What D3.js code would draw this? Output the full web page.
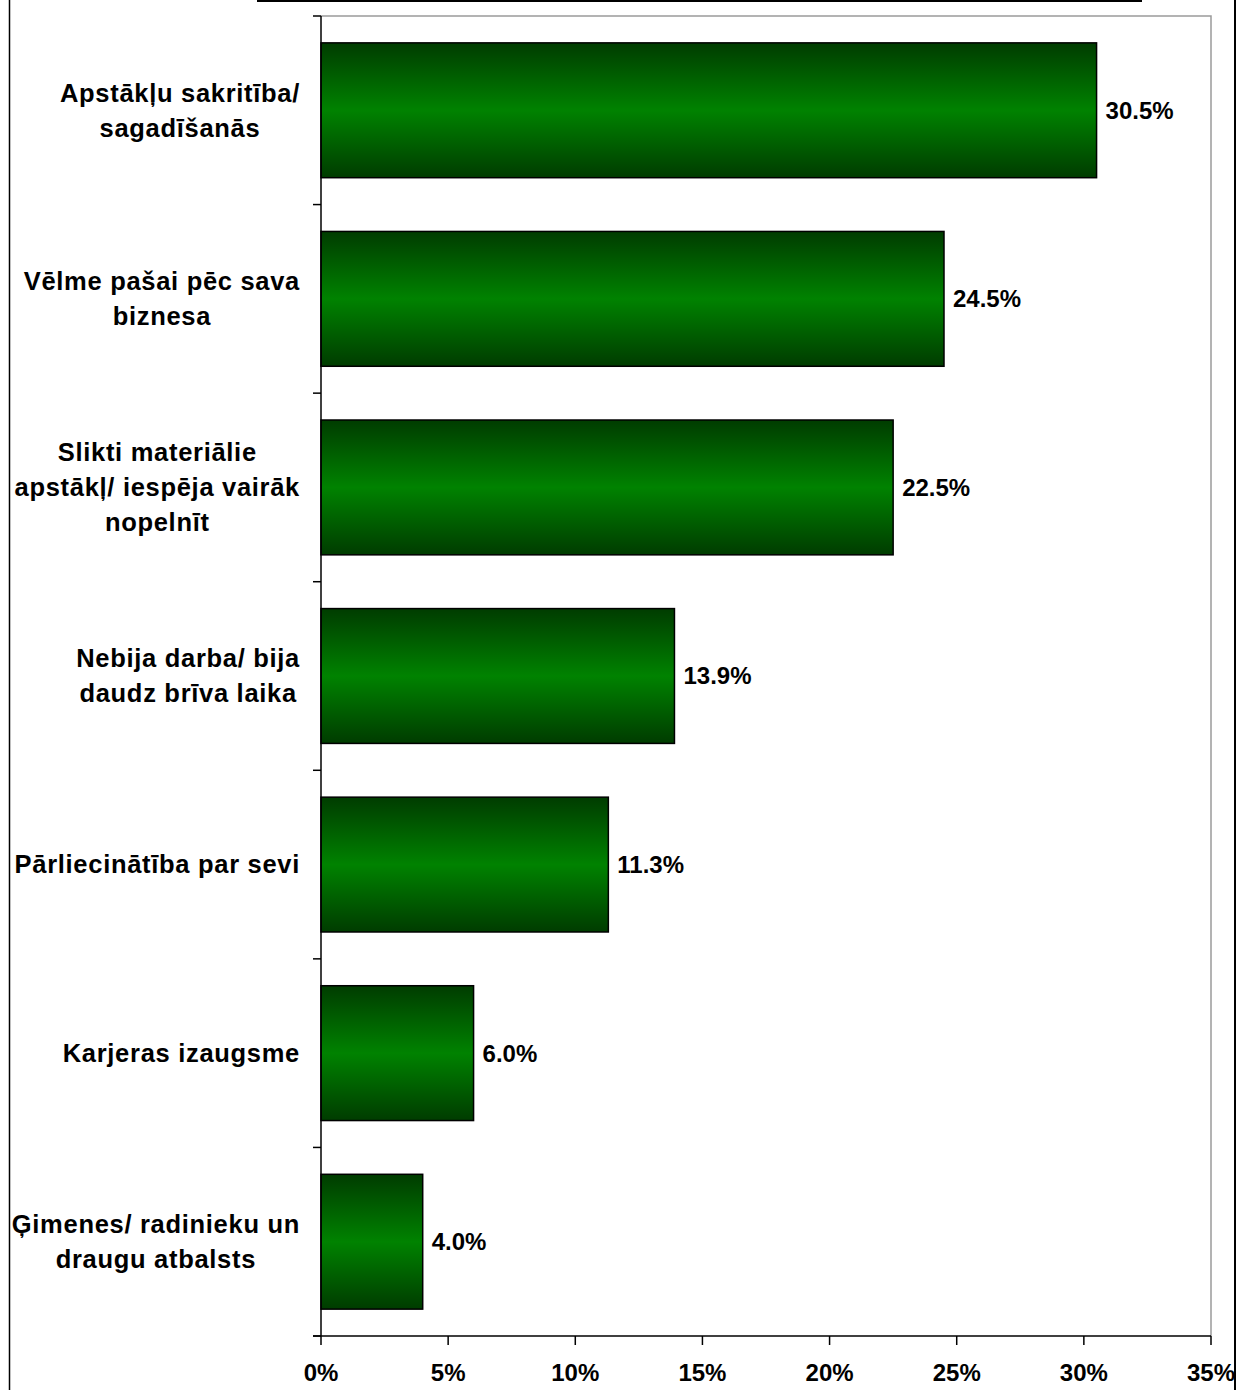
<!DOCTYPE html>
<html>
<head>
<meta charset="utf-8">
<script src="https://cdn.jsdelivr.net/npm/d3@7"></script>
<style>
  body { margin: 0; background: #fff; }
  text { font-family: "Liberation Sans", Arial, sans-serif; font-weight: bold; font-size: 24px; fill: #000; }
  text.cat { font-size: 25.5px; letter-spacing: 0.7px; }
</style>
</head>
<body>
<div id="chart"></div>
<script>
// data
const categories = [
  'Apstākļu sakritība/\nsagadīšanās',
  'Vēlme pašai pēc sava\nbiznesa',
  'Slikti materiālie\napstākļ/ iespēja vairāk\nnopelnīt',
  'Nebija darba/ bija\ndaudz brīva laika',
  'Pārliecinātība par sevi',
  'Karjeras izaugsme',
  'Ģimenes/ radinieku un\ndraugu atbalsts'
];
const values = [30.5, 24.5, 22.5, 13.9, 11.3, 6.0, 4.0];
const xTicks = [0, 5, 10, 15, 20, 25, 30, 35];

const width = 1239;
const height = 1390;
const plot = { left: 321, right: 1211, top: 16, bottom: 1336 };

const svg = d3.select('#chart')
  .append('svg')
  .attr('width', width)
  .attr('height', height);

const defs = svg.append('defs');
const grad = defs.append('linearGradient')
  .attr('id', 'bar-grad')
  .attr('x1', 0).attr('y1', 0).attr('x2', 0).attr('y2', 1);
grad.append('stop').attr('offset', '0%').attr('stop-color', '#003c00');
grad.append('stop').attr('offset', '50%').attr('stop-color', '#008200');
grad.append('stop').attr('offset', '100%').attr('stop-color', '#003c00');

const x = d3.scaleLinear().domain([0, 35]).range([plot.left, plot.right]);
const y = d3.scaleBand()
  .domain(categories)
  .range([plot.top, plot.bottom])
  .paddingInner(0.285)
  .paddingOuter(0.1425);
const step = y.step();

// outer frame bits
svg.append('line')
  .attr('x1', 9.5).attr('x2', 9.5).attr('y1', 0).attr('y2', height)
  .attr('stroke', '#000').attr('stroke-width', 1.5);
svg.append('line')
  .attr('x1', 257).attr('x2', 1142).attr('y1', 1).attr('y2', 1)
  .attr('stroke', '#000').attr('stroke-width', 2);

// plot area border (grey)
svg.append('path')
  .attr('d', `M${plot.left},${plot.top}H${plot.right}V${plot.bottom}`)
  .attr('fill', 'none')
  .attr('stroke', '#9a9a9a')
  .attr('stroke-width', 1.5);

// bars
svg.append('g')
  .selectAll('rect')
  .data(values)
  .enter()
  .append('rect')
  .attr('x', x(0))
  .attr('y', (d, i) => y(categories[i]))
  .attr('width', d => x(d) - x(0))
  .attr('height', y.bandwidth())
  .attr('fill', 'url(#bar-grad)')
  .attr('stroke', '#000')
  .attr('stroke-width', 1.5);

// value labels
svg.append('g')
  .selectAll('text')
  .data(values)
  .enter()
  .append('text')
  .attr('x', d => x(d) + 9)
  .attr('y', (d, i) => y(categories[i]) + y.bandwidth() / 2)
  .attr('dy', '0.35em')
  .text(d => d.toFixed(1) + '%');

// y axis
const yAxis = svg.append('g');
yAxis.append('line')
  .attr('x1', plot.left).attr('x2', plot.left)
  .attr('y1', plot.top).attr('y2', plot.bottom)
  .attr('stroke', '#000').attr('stroke-width', 1.5);
yAxis.selectAll('.ytick')
  .data(d3.range(categories.length + 1))
  .enter()
  .append('line')
  .attr('class', 'ytick')
  .attr('x1', plot.left - 8).attr('x2', plot.left)
  .attr('y1', i => plot.top + i * step)
  .attr('y2', i => plot.top + i * step)
  .attr('stroke', '#000').attr('stroke-width', 1.5);

// category labels, right aligned block, lines centered
const labelRight = 300;
const lineGap = 35;
categories.forEach(cat => {
  const lines = cat.split('\n');
  const cy = y(cat) + y.bandwidth() / 2;
  const g = svg.append('g');
  const t = g.selectAll('text')
    .data(lines)
    .enter()
    .append('text')
    .attr('class', 'cat')
    .attr('text-anchor', 'middle')
    .attr('x', 0)
    .attr('y', (d, i) => cy + (i - (lines.length - 1) / 2) * lineGap)
    .attr('dy', '0.35em')
    .text(d => d);
  const maxW = d3.max(t.nodes(), n => n.getComputedTextLength());
  g.attr('transform', `translate(${labelRight - maxW / 2},0)`);
});

// x axis
const xAxis = svg.append('g');
xAxis.append('line')
  .attr('x1', plot.left - 8).attr('x2', plot.right)
  .attr('y1', plot.bottom).attr('y2', plot.bottom)
  .attr('stroke', '#000').attr('stroke-width', 1.5);
xAxis.selectAll('.xtick')
  .data(xTicks)
  .enter()
  .append('line')
  .attr('class', 'xtick')
  .attr('x1', d => x(d)).attr('x2', d => x(d))
  .attr('y1', plot.bottom).attr('y2', plot.bottom + 9)
  .attr('stroke', '#000').attr('stroke-width', 1.5);
xAxis.selectAll('text')
  .data(xTicks)
  .enter()
  .append('text')
  .attr('x', d => x(d))
  .attr('y', 1381)
  .attr('text-anchor', 'middle')
  .text(d => d + '%');

// right frame line drawn over the clipped 35% label
svg.append('line')
  .attr('x1', 1235).attr('x2', 1235).attr('y1', 0).attr('y2', height)
  .attr('stroke', '#000').attr('stroke-width', 2);
</script>
</body>
</html>
